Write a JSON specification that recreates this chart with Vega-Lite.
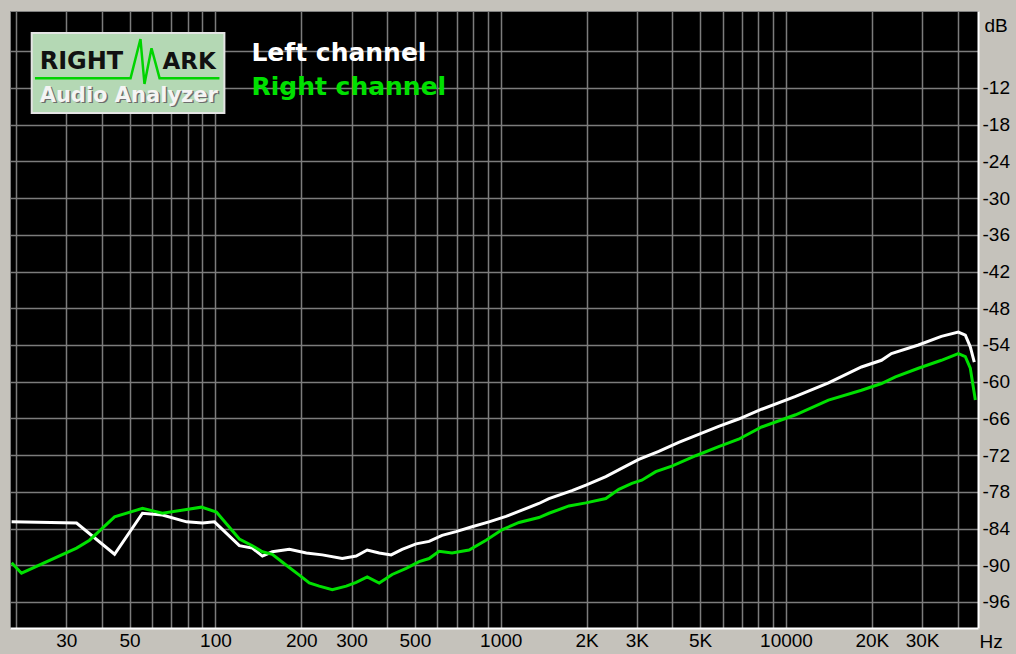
{
  "$schema": "https://vega.github.io/schema/vega-lite/v6.json",
  "width": 968,
  "height": 617,
  "autosize": {"type": "none"},
  "padding": {"left": 10, "top": 11, "right": 38, "bottom": 26},
  "background": "#c5c2bb",
  "config": {
    "view": {"fill": "#000000", "stroke": "#808080", "strokeWidth": 1},
    "font": "Liberation Sans"
  },
  "datasets": {
    "curves": [
      {"f": 19.3, "db": -82.9, "ch": "Left channel"},
      {"f": 32.6, "db": -83.1, "ch": "Left channel"},
      {"f": 44.3, "db": -88.2, "ch": "Left channel"},
      {"f": 55.5, "db": -81.5, "ch": "Left channel"},
      {"f": 65.2, "db": -81.8, "ch": "Left channel"},
      {"f": 79.2, "db": -82.9, "ch": "Left channel"},
      {"f": 90.1, "db": -83.1, "ch": "Left channel"},
      {"f": 99.2, "db": -82.9, "ch": "Left channel"},
      {"f": 121.3, "db": -86.8, "ch": "Left channel"},
      {"f": 134.7, "db": -87.2, "ch": "Left channel"},
      {"f": 146.1, "db": -88.5, "ch": "Left channel"},
      {"f": 158.3, "db": -87.8, "ch": "Left channel"},
      {"f": 181.6, "db": -87.4, "ch": "Left channel"},
      {"f": 208.3, "db": -88.0, "ch": "Left channel"},
      {"f": 236.9, "db": -88.3, "ch": "Left channel"},
      {"f": 278.3, "db": -88.9, "ch": "Left channel"},
      {"f": 311.5, "db": -88.5, "ch": "Left channel"},
      {"f": 340.4, "db": -87.5, "ch": "Left channel"},
      {"f": 375, "db": -88.0, "ch": "Left channel"},
      {"f": 413, "db": -88.3, "ch": "Left channel"},
      {"f": 451.2, "db": -87.4, "ch": "Left channel"},
      {"f": 505.2, "db": -86.5, "ch": "Left channel"},
      {"f": 561, "db": -86.1, "ch": "Left channel"},
      {"f": 623, "db": -85.1, "ch": "Left channel"},
      {"f": 697.5, "db": -84.5, "ch": "Left channel"},
      {"f": 793.4, "db": -83.7, "ch": "Left channel"},
      {"f": 909.9, "db": -82.9, "ch": "Left channel"},
      {"f": 1044, "db": -82.0, "ch": "Left channel"},
      {"f": 1187, "db": -81.0, "ch": "Left channel"},
      {"f": 1361, "db": -79.9, "ch": "Left channel"},
      {"f": 1476, "db": -79.1, "ch": "Left channel"},
      {"f": 1777, "db": -77.8, "ch": "Left channel"},
      {"f": 1989, "db": -76.9, "ch": "Left channel"},
      {"f": 2336, "db": -75.5, "ch": "Left channel"},
      {"f": 2745, "db": -73.8, "ch": "Left channel"},
      {"f": 3048, "db": -72.7, "ch": "Left channel"},
      {"f": 3581, "db": -71.4, "ch": "Left channel"},
      {"f": 4207, "db": -69.9, "ch": "Left channel"},
      {"f": 4943, "db": -68.6, "ch": "Left channel"},
      {"f": 5808, "db": -67.3, "ch": "Left channel"},
      {"f": 6823, "db": -66.1, "ch": "Left channel"},
      {"f": 8216, "db": -64.5, "ch": "Left channel"},
      {"f": 10810, "db": -62.4, "ch": "Left channel"},
      {"f": 14090, "db": -60.2, "ch": "Left channel"},
      {"f": 18390, "db": -57.6, "ch": "Left channel"},
      {"f": 21610, "db": -56.5, "ch": "Left channel"},
      {"f": 23420, "db": -55.4, "ch": "Left channel"},
      {"f": 29120, "db": -54.0, "ch": "Left channel"},
      {"f": 35050, "db": -52.6, "ch": "Left channel"},
      {"f": 40180, "db": -51.9, "ch": "Left channel"},
      {"f": 42520, "db": -52.4, "ch": "Left channel"},
      {"f": 44260, "db": -54.3, "ch": "Left channel"},
      {"f": 45710, "db": -56.8, "ch": "Left channel"},
      {"f": 19.3, "db": -89.6, "ch": "Right channel"},
      {"f": 20.9, "db": -91.3, "ch": "Right channel"},
      {"f": 32.6, "db": -87.2, "ch": "Right channel"},
      {"f": 36.2, "db": -85.9, "ch": "Right channel"},
      {"f": 44.3, "db": -82.1, "ch": "Right channel"},
      {"f": 55.5, "db": -80.7, "ch": "Right channel"},
      {"f": 65.2, "db": -81.5, "ch": "Right channel"},
      {"f": 79.2, "db": -80.9, "ch": "Right channel"},
      {"f": 89.3, "db": -80.5, "ch": "Right channel"},
      {"f": 100.8, "db": -81.3, "ch": "Right channel"},
      {"f": 121.3, "db": -85.7, "ch": "Right channel"},
      {"f": 134.7, "db": -86.8, "ch": "Right channel"},
      {"f": 146.1, "db": -87.8, "ch": "Right channel"},
      {"f": 158.3, "db": -88.2, "ch": "Right channel"},
      {"f": 177.2, "db": -90.0, "ch": "Right channel"},
      {"f": 196.8, "db": -91.6, "ch": "Right channel"},
      {"f": 213.3, "db": -92.9, "ch": "Right channel"},
      {"f": 231.2, "db": -93.4, "ch": "Right channel"},
      {"f": 256.8, "db": -94.0, "ch": "Right channel"},
      {"f": 287.4, "db": -93.4, "ch": "Right channel"},
      {"f": 311.5, "db": -92.8, "ch": "Right channel"},
      {"f": 340.4, "db": -91.9, "ch": "Right channel"},
      {"f": 375, "db": -92.9, "ch": "Right channel"},
      {"f": 416.5, "db": -91.5, "ch": "Right channel"},
      {"f": 466.1, "db": -90.5, "ch": "Right channel"},
      {"f": 517.6, "db": -89.4, "ch": "Right channel"},
      {"f": 561, "db": -88.9, "ch": "Right channel"},
      {"f": 608.1, "db": -87.7, "ch": "Right channel"},
      {"f": 675.3, "db": -88.0, "ch": "Right channel"},
      {"f": 774.5, "db": -87.5, "ch": "Right channel"},
      {"f": 888.2, "db": -85.9, "ch": "Right channel"},
      {"f": 1010, "db": -84.2, "ch": "Right channel"},
      {"f": 1159, "db": -83.0, "ch": "Right channel"},
      {"f": 1361, "db": -82.2, "ch": "Right channel"},
      {"f": 1476, "db": -81.5, "ch": "Right channel"},
      {"f": 1734, "db": -80.3, "ch": "Right channel"},
      {"f": 1989, "db": -79.8, "ch": "Right channel"},
      {"f": 2336, "db": -79.1, "ch": "Right channel"},
      {"f": 2594, "db": -77.6, "ch": "Right channel"},
      {"f": 2882, "db": -76.6, "ch": "Right channel"},
      {"f": 3123, "db": -76.1, "ch": "Right channel"},
      {"f": 3496, "db": -74.7, "ch": "Right channel"},
      {"f": 3978, "db": -73.8, "ch": "Right channel"},
      {"f": 4827, "db": -72.1, "ch": "Right channel"},
      {"f": 5808, "db": -70.6, "ch": "Right channel"},
      {"f": 6823, "db": -69.4, "ch": "Right channel"},
      {"f": 8216, "db": -67.4, "ch": "Right channel"},
      {"f": 10810, "db": -65.4, "ch": "Right channel"},
      {"f": 14090, "db": -63.0, "ch": "Right channel"},
      {"f": 18390, "db": -61.4, "ch": "Right channel"},
      {"f": 21610, "db": -60.3, "ch": "Right channel"},
      {"f": 24190, "db": -59.2, "ch": "Right channel"},
      {"f": 29120, "db": -57.8, "ch": "Right channel"},
      {"f": 35050, "db": -56.5, "ch": "Right channel"},
      {"f": 40180, "db": -55.4, "ch": "Right channel"},
      {"f": 42520, "db": -55.9, "ch": "Right channel"},
      {"f": 44260, "db": -57.8, "ch": "Right channel"},
      {"f": 46100, "db": -63.0, "ch": "Right channel"}
    ],
    "logo": [
      {"f": 23.3, "db": -10.4},
      {"f": 50.4, "db": -10.4},
      {"f": 54.6, "db": -4.0},
      {"f": 56.4, "db": -11.35},
      {"f": 59.7, "db": -5.5},
      {"f": 63.7, "db": -10.4},
      {"f": 103.3, "db": -10.4}
    ],
    "one": [{}]
  },
  "layer": [
    {
      "data": {"name": "curves"},
      "mark": {"type": "line", "strokeWidth": 3, "clip": true},
      "encoding": {
        "x": {
          "field": "f",
          "type": "quantitative",
          "scale": {"type": "log", "domain": [19.05, 47100], "nice": false},
          "axis": {
            "orient": "bottom",
            "values": [20, 30, 40, 50, 60, 70, 80, 90, 100, 200, 300, 400, 500, 600, 700, 800, 900, 1000, 2000, 3000, 4000, 5000, 6000, 7000, 8000, 9000, 10000, 20000, 30000, 40000],
            "grid": true,
            "gridColor": "#7c7c7c",
            "gridWidth": 1.5,
            "ticks": false,
            "domain": true,
            "domainColor": "#ffffff",
            "domainWidth": 2,
            "labelExpr": "indexof([30,50,100,200,300,500,1000,10000], datum.value) >= 0 ? '' + datum.value : (indexof([2000,3000,5000,20000,30000], datum.value) >= 0 ? (datum.value/1000) + 'K' : '')",
            "labelFont": "Liberation Sans",
            "labelFontSize": 19,
            "labelColor": "#000000",
            "labelPadding": 3,
            "labelOverlap": false,
            "labelFlush": false,
            "title": "Hz",
            "titleX": 969,
            "titleY": 13,
            "titleAlign": "left",
            "titleBaseline": "middle",
            "titleFont": "Liberation Sans",
            "titleFontWeight": "normal",
            "titleFontSize": 19,
            "titleColor": "#000000"
          }
        },
        "y": {
          "field": "db",
          "type": "quantitative",
          "scale": {"domain": [-100.25, 0.58], "nice": false, "zero": false},
          "axis": {
            "orient": "right",
            "values": [-96, -90, -84, -78, -72, -66, -60, -54, -48, -42, -36, -30, -24, -18, -12, -6],
            "grid": true,
            "gridColor": "#7c7c7c",
            "gridWidth": 1.5,
            "ticks": false,
            "domain": true,
            "domainColor": "#ffffff",
            "domainWidth": 2,
            "labelExpr": "datum.value == -6 ? '' : '-' + abs(datum.value)",
            "labelFont": "Liberation Sans",
            "labelFontSize": 19,
            "labelColor": "#000000",
            "labelPadding": 4,
            "labelOverlap": false,
            "labelFlush": false,
            "title": "dB",
            "titleAngle": 0,
            "titleX": 6,
            "titleY": 14,
            "titleAlign": "left",
            "titleBaseline": "middle",
            "titleFont": "Liberation Sans",
            "titleFontWeight": "normal",
            "titleFontSize": 19,
            "titleColor": "#000000"
          }
        },
        "color": {
          "field": "ch",
          "type": "nominal",
          "scale": {"domain": ["Left channel", "Right channel"], "range": ["#ffffff", "#00e000"]},
          "legend": null
        }
      }
    },
    {
      "data": {"name": "one"},
      "mark": {"type": "rect", "fill": "#b4d8b4", "stroke": "#e4e4e4", "strokeWidth": 2},
      "encoding": {
        "x": {"datum": 22.7, "type": "quantitative"},
        "x2": {"datum": 107.5},
        "y": {"datum": -3.0, "type": "quantitative"},
        "y2": {"datum": -16.1}
      }
    },
    {
      "data": {"name": "logo"},
      "mark": {"type": "line", "color": "#00d400", "strokeWidth": 2.5},
      "encoding": {
        "x": {"field": "f", "type": "quantitative"},
        "y": {"field": "db", "type": "quantitative"}
      }
    },
    {
      "data": {"name": "one"},
      "mark": {"type": "text", "text": "RIGHT", "font": "DejaVu Sans", "fontWeight": "bold", "fontSize": 24, "color": "#111111", "align": "left", "baseline": "middle"},
      "encoding": {
        "x": {"datum": 24.2, "type": "quantitative"},
        "y": {"datum": -7.75, "type": "quantitative"}
      }
    },
    {
      "data": {"name": "one"},
      "mark": {"type": "text", "text": "ARK", "font": "DejaVu Sans", "fontWeight": "bold", "fontSize": 23, "color": "#111111", "align": "left", "baseline": "middle"},
      "encoding": {
        "x": {"datum": 65.2, "type": "quantitative"},
        "y": {"datum": -7.75, "type": "quantitative"}
      }
    },
    {
      "data": {"name": "one"},
      "mark": {"type": "text", "text": "Audio Analyzer", "font": "DejaVu Sans", "fontWeight": "bold", "fontSize": 21, "color": "#6e6e6e", "align": "left", "baseline": "middle", "dx": 1.5, "dy": 1.5},
      "encoding": {
        "x": {"datum": 24.2, "type": "quantitative"},
        "y": {"datum": -13.3, "type": "quantitative"}
      }
    },
    {
      "data": {"name": "one"},
      "mark": {"type": "text", "text": "Audio Analyzer", "font": "DejaVu Sans", "fontWeight": "bold", "fontSize": 21, "color": "#f4f4f4", "align": "left", "baseline": "middle"},
      "encoding": {
        "x": {"datum": 24.2, "type": "quantitative"},
        "y": {"datum": -13.3, "type": "quantitative"}
      }
    },
    {
      "data": {"name": "one"},
      "mark": {"type": "text", "text": "Left channel", "font": "DejaVu Sans", "fontWeight": "bold", "fontSize": 25, "color": "#ffffff", "align": "left", "baseline": "middle"},
      "encoding": {
        "x": {"datum": 133.7, "type": "quantitative"},
        "y": {"datum": -6.28, "type": "quantitative"}
      }
    },
    {
      "data": {"name": "one"},
      "mark": {"type": "text", "text": "Right channel", "font": "DejaVu Sans", "fontWeight": "bold", "fontSize": 25, "color": "#00e000", "align": "left", "baseline": "middle"},
      "encoding": {
        "x": {"datum": 133.7, "type": "quantitative"},
        "y": {"datum": -11.84, "type": "quantitative"}
      }
    }
  ]
}
